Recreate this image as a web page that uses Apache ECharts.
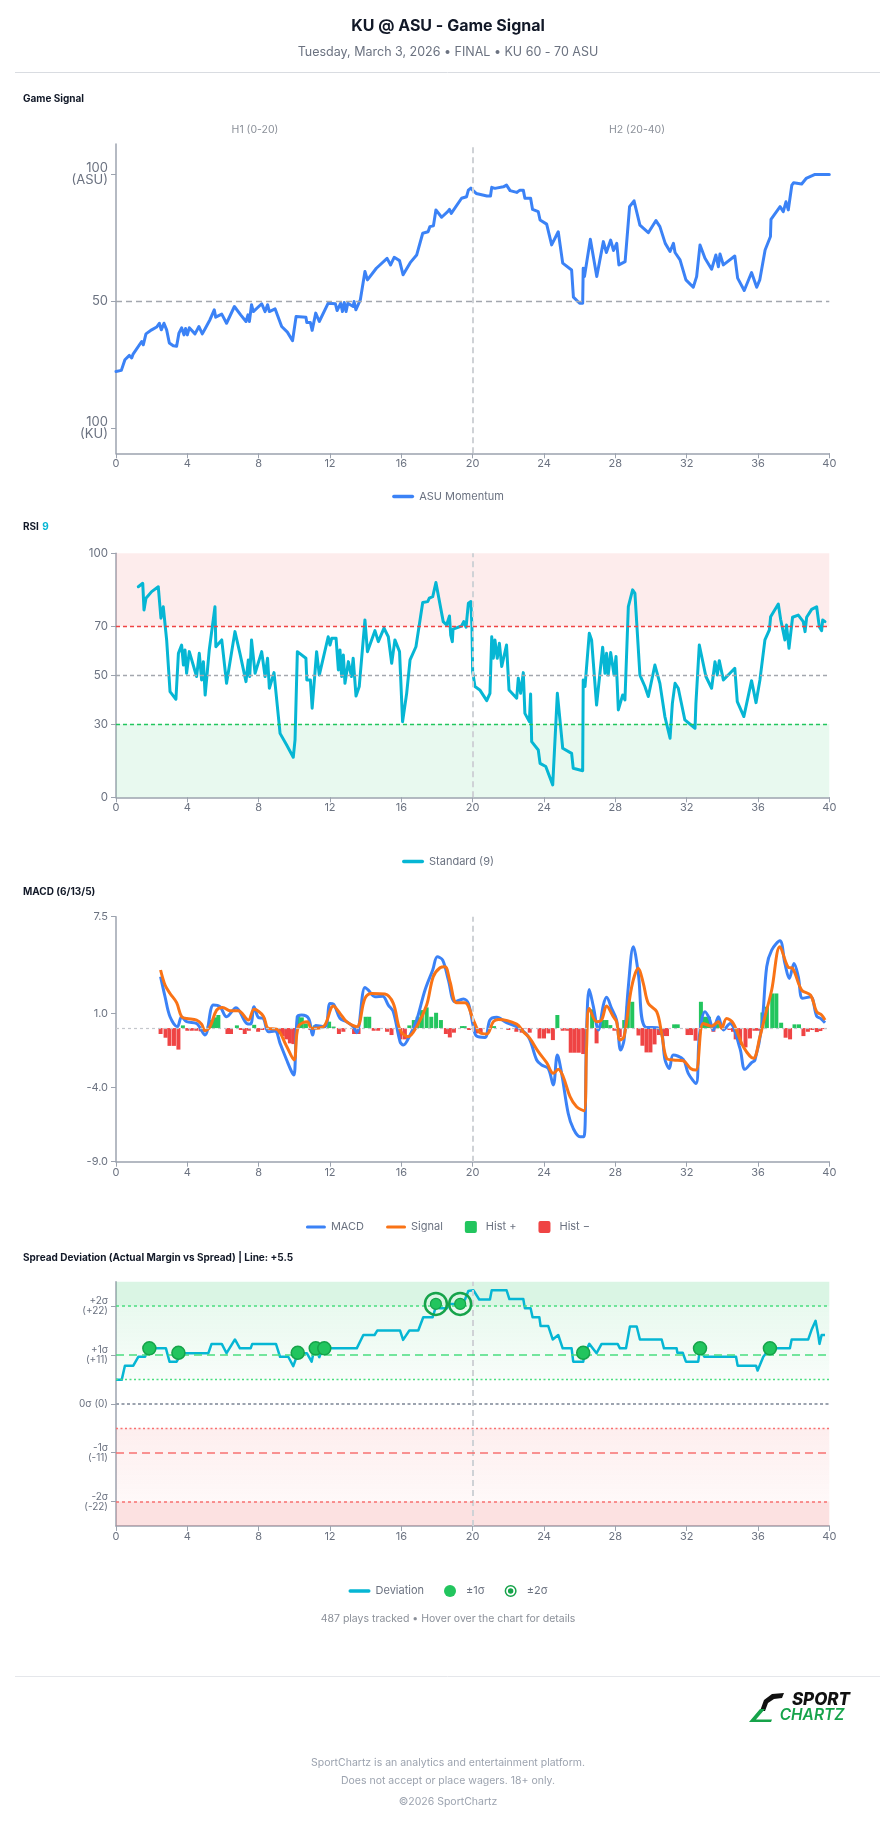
<!DOCTYPE html>
<html>
<head>
<meta charset="utf-8">
<script src="https://cdn.jsdelivr.net/npm/echarts@6.0.0/dist/echarts.min.js"></script>
<style>
  html, body { margin: 0; padding: 0; background: #fff; }
  #page { width: 896px; height: 1824px; }
</style>
</head>
<body>
<div id="page"></div>
<script>
// ---- game signal (ASU momentum, 0 = 100% KU, 100 = 100% ASU) ----
const signalT = [0,0.3,0.5,0.75,0.88,0.95,1.44,1.53,1.68,2.0,2.28,2.43,2.54,2.69,2.84,2.99,3.21,3.4,3.53,3.68,3.81,3.9,4.0,4.11,4.43,4.65,4.84,4.99,5.27,5.51,5.59,5.93,6.2,6.64,6.99,7.29,7.4,7.48,7.6,7.7,8.17,8.36,8.5,8.6,8.92,9.29,9.61,9.9,10.1,10.65,10.7,10.9,11.0,11.2,11.4,11.9,12.3,12.4,12.6,12.7,12.8,12.9,13.0,13.3,13.35,13.45,13.7,13.96,14.1,14.6,15.2,15.4,15.6,15.9,16.1,16.5,16.86,17.2,17.5,17.6,17.8,17.94,18.26,18.6,18.7,18.8,19.38,19.66,19.76,19.9,20.03,20.2,20.8,21.0,21.07,21.25,21.72,21.9,22.1,22.47,22.65,22.84,22.93,23.25,23.36,23.68,23.78,24.15,24.43,24.8,25.05,25.55,25.65,26.0,26.17,26.2,26.27,26.6,26.96,27.33,27.5,27.74,27.9,28.08,28.2,28.55,28.8,29.05,29.38,29.85,30.28,30.5,30.8,31.07,31.26,31.35,31.63,31.96,32.37,32.56,32.75,33.03,33.4,33.64,33.78,33.87,34.06,34.7,34.86,35.23,35.64,35.93,36.1,36.4,36.7,36.73,37.24,37.42,37.57,37.7,37.9,38.0,38.45,38.7,39.2,40.0];
const signalV = [22.3,22.7,26.9,28.6,27.6,29.0,34.1,32.8,37.1,38.7,39.8,41.3,38.7,41.3,38.7,33.5,32.4,32.2,37.4,39.5,36.7,39.2,36.7,39.5,37.1,40.0,37.1,39.0,42.7,46.6,43.7,44.9,41.3,47.9,44.6,42.0,44.6,42.0,48.6,45.9,49.0,45.9,48.6,45.9,47.0,40.0,37.8,34.4,44.0,43.7,41.6,41.6,38.5,45.3,42.0,49.2,49.0,46.3,49.2,45.9,49.5,45.9,49.2,47.9,49.9,46.6,50.5,61.7,58.4,63.0,66.9,64.3,67.3,66.0,60.4,65.2,68.2,76.8,77.4,79.4,79.7,86.0,83.1,85.3,86.2,84.6,90.6,91.2,93.8,94.6,93.6,92.5,91.5,91.5,94.9,94.5,95.1,95.8,93.6,92.9,93.8,93.8,90.6,90.6,86.2,85.3,82.0,80.4,72.2,77.4,65.0,62.3,51.6,49.2,49.2,63.0,59.7,74.4,59.7,73.5,69.2,74.1,70.0,72.8,64.3,65.6,87.3,89.6,80.0,77.0,81.8,79.4,72.8,69.6,72.8,69.2,66.3,58.4,55.5,59.7,72.2,66.9,62.6,68.2,63.6,68.6,64.3,67.8,59.1,54.2,61.3,55.5,58.4,70.2,75.5,82.3,87.3,85.3,89.2,86.0,95.8,96.7,96.2,98.4,100,100];

// ---- RSI 9 ----
const rsiT = [1.25,1.5,1.57,1.68,2.0,2.37,2.52,2.65,2.84,3.03,3.36,3.5,3.68,3.78,3.87,3.96,4.11,4.52,4.67,4.8,4.9,5.0,5.23,5.55,5.6,5.93,6.2,6.67,6.95,7.29,7.42,7.5,7.6,7.8,8.17,8.36,8.5,8.6,8.86,9.2,9.57,9.94,10.04,10.17,10.65,10.7,10.9,11.0,11.25,11.4,11.9,12.0,12.1,12.34,12.47,12.56,12.65,12.75,12.84,13.03,13.2,13.3,13.46,13.64,13.96,14.1,14.52,14.71,15.03,15.27,15.46,15.64,15.9,16.07,16.3,16.49,16.82,17.2,17.48,17.57,17.76,17.94,18.35,18.54,18.7,18.77,18.86,18.9,19.38,19.5,19.63,19.76,19.9,19.96,20.0,20.13,20.4,20.79,20.97,21.07,21.16,21.25,21.38,21.5,21.63,21.9,22.04,22.47,22.56,22.69,22.84,22.93,23.18,23.25,23.31,23.68,23.78,24.1,24.49,24.75,24.86,25.05,25.55,25.64,26.17,26.2,26.3,26.54,26.67,26.95,27.29,27.42,27.51,27.6,27.74,27.93,28.04,28.17,28.41,28.54,28.73,28.97,29.1,29.38,29.66,29.85,30.22,30.5,30.78,31.07,31.2,31.35,31.53,31.9,32.47,32.52,32.71,33.08,33.4,33.59,33.72,33.83,34.06,34.7,34.84,35.21,35.64,35.89,36.11,36.39,36.64,36.71,37.14,37.27,37.51,37.6,37.74,37.94,38.26,38.54,38.64,38.73,39.01,39.29,39.44,39.57,39.63,39.76];
const rsiV = [86.3,87.7,76.8,81.6,84.3,86.3,73.4,78.1,64.5,43.3,40.2,59.0,62.4,54.2,60.4,50.8,59.7,49.5,59.0,48.1,55.6,41.9,60.4,78.1,61.7,64.5,46.7,67.9,59.0,47.4,56.3,49.5,64.5,50.8,59.7,49.5,57.0,44.7,51.1,26.2,21.4,16.4,23.5,59.7,57.0,48.1,48.1,36.5,59.7,50.1,65.8,62.4,65.2,65.2,52.2,60.4,49.5,58.3,46.7,55.6,49.5,57.0,41.5,45.4,72.7,59.7,68.3,63.8,69.3,65.8,54.9,64.5,59.7,31.0,42.6,56.3,61.7,79.8,80.2,81.6,82.2,88.0,72.0,70.6,74.3,66.5,63.8,68.9,70.2,72.0,69.7,79.5,80.2,69.9,51.5,45.4,44.0,39.6,42.6,65.8,57.0,64.5,57.0,63.1,53.6,62.4,44.0,40.6,48.8,42.6,51.1,34.4,31.0,42.3,22.8,19.4,13.9,12.6,5.1,42.6,34.4,20.1,18.0,11.9,10.9,48.1,45.4,67.2,64.5,37.8,61.5,50.8,59.0,50.1,59.3,50.1,57.7,35.8,41.9,39.9,78.1,85.0,83.6,50.1,45.4,41.3,54.2,46.7,33.1,24.2,38.5,46.7,44.7,31.7,28.3,38.5,62.4,49.5,44.7,55.6,50.1,56.0,48.1,52.9,39.2,33.1,47.8,38.8,48.1,64.5,68.6,74.0,79.2,73.0,64.5,70.6,61.1,73.8,74.7,72.0,67.9,73.8,77.0,78.1,69.9,68.3,72.7,72.0];

// ---- MACD (6/13/5) ----
const macdT = [2.5,2.75,3.03,3.44,3.68,3.96,4.52,4.99,5.46,5.83,6.2,6.73,7.33,7.55,7.74,7.98,8.26,8.54,8.92,9.2,9.57,9.85,9.98,10.17,10.41,10.8,11.03,11.2,11.72,12.0,12.19,12.56,12.93,13.3,13.5,13.96,14.15,14.52,14.95,15.27,15.55,15.93,16.11,16.49,16.86,17.33,17.76,18.02,18.32,18.64,19.01,19.48,19.76,20.04,20.22,20.69,20.97,21.35,21.9,22.47,23.12,23.59,23.87,24.24,24.52,24.75,24.99,25.36,25.64,26.02,26.24,26.39,26.54,26.77,27.05,27.33,27.51,27.79,28.07,28.3,28.49,28.73,29.01,29.29,29.66,30.47,30.79,31.03,31.25,31.81,32.09,32.52,32.71,33.03,33.27,33.5,33.78,34.06,34.43,34.99,35.27,35.64,35.83,36.21,36.49,36.77,37.23,37.51,37.76,38.02,38.26,38.5,38.95,39.29,39.51,39.76];
const macdV = [3.46,2.11,0.76,0.09,0.76,0.43,0.31,-0.47,1.55,1.44,0.76,1.37,0.31,0.27,1.44,0.72,0.65,-0.25,-0.2,-1.03,-2.15,-2.94,-3.16,0.76,0.88,0.65,-0.47,0.18,0.09,1.66,1.62,0.65,0.43,0.09,-0.31,2.74,2.56,2.11,2.15,1.55,1.1,-0.92,-1.14,-0.47,0.54,2.56,3.91,4.8,4.58,3.23,1.77,1.95,1.66,0.09,-0.54,-0.63,0.54,0.72,0.36,0.09,-0.58,-2.15,-2.49,-2.72,-3.84,-1.82,-3.05,-5.75,-6.76,-7.32,-7.32,-0.13,2.6,1.44,-0.13,1.55,2.07,1.32,0.54,-1.48,-0.81,2.78,5.48,3.68,0.09,-0.02,-2.15,-2.72,-1.82,-2.11,-3.05,-3.73,-0.58,1.1,0.65,-0.13,0.76,-0.13,0.31,-1.37,-2.78,-2.33,-2.15,0.09,4.13,5.25,5.88,4.35,3.34,4.35,3.46,2.0,2.11,0.81,0.65,0.36];
const signalLineT = [2.5,2.75,3.03,3.4,3.68,3.96,4.52,4.8,4.99,5.27,5.64,5.98,6.39,6.86,7.42,7.74,8.26,8.54,9.01,9.53,9.98,10.22,10.73,10.97,11.63,12.19,12.56,12.93,13.5,13.96,14.34,15.08,15.55,15.93,16.39,16.86,17.42,17.79,18.17,18.45,18.73,19.1,19.57,20.04,20.41,20.79,21.16,21.44,22.47,22.84,23.21,23.68,24.15,24.52,24.8,25.08,25.46,25.83,26.24,26.39,26.54,26.95,27.23,27.51,27.89,28.07,28.26,28.49,28.92,29.29,29.57,29.85,30.32,30.6,30.88,31.25,31.81,32.22,32.52,32.93,33.4,33.78,33.96,34.24,34.62,35.18,35.74,36.11,36.39,36.77,37.23,37.7,37.94,38.45,38.95,39.29,39.57,39.76];
const signalLineV = [3.91,2.9,2.33,1.71,0.76,0.65,0.54,0.27,-0.18,0.09,1.21,1.39,1.17,1.17,0.54,1.26,0.81,-0.02,-0.07,-1.14,-2.15,0.09,0.43,-0.02,0.09,1.48,0.99,0.43,0.09,2.0,2.33,2.29,1.66,-0.13,-0.58,0.09,1.55,3.46,4.06,4.13,3.12,1.71,1.71,0.54,-0.31,-0.4,0.43,0.58,0.27,-0.25,-0.7,-1.59,-2.33,-3.05,-2.78,-3.28,-4.62,-5.3,-5.57,-1.26,1.32,0.43,0.54,1.48,0.76,0.43,-0.81,-0.58,2.78,4.02,3.01,1.66,1.1,-0.36,-2.04,-2.15,-2.2,-2.72,-2.83,0.31,0.13,0.43,-0.02,0.65,0.31,-1.26,-2.04,-0.58,0.76,2.56,5.48,4.09,4.02,2.56,2.22,1.1,0.88,0.54];
const histT = [2.5,2.78,3.0,3.25,3.5,3.75,4.0,4.25,4.5,4.75,5.2,5.38,5.56,5.74,6.25,6.45,6.78,7.0,7.22,7.45,7.75,7.97,8.2,8.45,8.7,9.15,9.35,9.55,9.75,9.95,10.2,10.42,10.65,10.9,11.15,11.4,11.95,12.2,12.5,12.75,13.35,13.6,14.0,14.2,14.45,14.7,15.2,15.45,15.95,16.2,16.45,16.7,16.92,17.15,17.42,17.68,17.95,18.22,18.5,18.72,18.95,19.4,19.55,19.8,20.2,20.45,21.2,22.0,22.45,22.75,23.2,23.75,24.0,24.25,24.5,24.75,25.05,25.3,25.5,25.72,25.95,26.2,26.7,26.95,27.3,27.5,27.72,27.95,28.25,28.5,28.7,28.95,29.3,29.52,29.75,29.97,30.2,30.45,30.68,30.9,31.3,31.5,32.05,32.25,32.5,32.8,33.03,33.25,33.5,33.75,34.4,34.6,34.75,35.0,35.3,35.55,35.8,36.0,36.25,36.5,36.8,37.03,37.3,37.55,37.8,38.05,38.3,38.55,38.8,39.05,39.3,39.5,39.72];
const histV = [-0.4,-0.65,-1.2,-1.2,-1.45,0.18,-0.18,-0.18,-0.18,-0.22,0.15,0.54,0.72,0.88,-0.4,-0.4,0.18,-0.13,-0.4,-0.18,0.22,-0.25,-0.13,-0.1,-0.08,-0.4,-0.54,-0.76,-1.03,-1.08,0.81,0.72,0.31,-0.13,0.18,0.18,0.43,0.1,-0.4,-0.25,-0.4,-0.4,0.76,0.76,-0.18,-0.18,-0.25,-0.47,-0.76,-0.76,0.18,0.54,0.76,1.21,1.39,0.76,1.03,0.54,-0.4,-0.63,-0.31,0.13,0.13,-0.13,-0.36,-0.36,0.13,-0.13,-0.25,-0.31,-0.31,-0.7,-0.7,-0.36,-0.81,0.88,-0.18,-0.18,-1.66,-1.66,-1.66,-1.75,1.26,-1.03,0.54,0.54,0.2,-0.18,-0.6,0.54,1.48,1.77,-0.5,-1.19,-1.64,-1.64,-1.1,-0.47,-0.54,-0.54,0.25,0.25,-0.47,-0.47,-0.85,1.77,0.76,0.76,-0.25,0.27,-0.13,-0.25,-0.76,-1.14,-1.3,-0.7,-0.18,-0.18,1.05,1.44,2.33,2.33,0.36,-0.65,-0.76,0.25,0.25,-0.54,-0.25,-0.13,-0.27,-0.2,-0.07];

// ---- spread deviation (actual margin minus spread, sigma = 11) ----
const devT = [0,0.32,0.5,0.97,1.25,1.63,1.8,2.8,3.0,3.4,3.68,5.18,5.36,5.93,6.2,6.67,6.95,7.55,7.64,8.97,9.2,9.66,9.94,10.13,10.25,10.7,10.97,11.07,11.2,11.4,11.6,13.5,13.87,14.5,14.65,15.93,16.1,16.45,16.95,17.23,17.76,17.94,18.17,18.55,18.7,19.3,19.57,19.76,20.04,20.37,20.97,21.07,21.9,22.06,22.84,22.93,23.25,23.36,23.74,23.81,24.24,24.49,24.8,25.05,25.55,25.64,26.2,26.3,26.54,26.95,27.23,28.13,28.26,28.6,28.82,29.2,29.38,30.6,30.73,31.44,31.48,31.78,31.96,32.65,32.75,32.99,34.77,34.86,35.89,35.98,36.3,36.67,37.79,37.89,38.82,39.0,39.1,39.23,39.38,39.45,39.57,39.76];
const devV = [5.4,5.4,8.6,8.6,10.6,10.6,12.5,12.5,9.5,9.5,11.4,11.4,13.5,13.5,11.4,14.5,12.5,12.5,13.5,13.5,10.6,10.6,8.5,10.6,11.4,11.4,9.5,11.4,12.5,10.5,12.5,12.5,15.5,15.5,16.5,16.5,14.4,16.5,16.5,19.5,19.5,21.9,21.5,21.5,22.5,22.5,23.5,25.4,25.6,23.5,23.5,25.6,25.6,23.6,23.6,21.5,21.5,19.5,19.5,17.5,17.5,14.5,15.5,12.5,12.5,9.5,9.5,11.5,13.5,11.4,13.5,13.5,12.5,12.5,17.4,17.4,14.5,14.5,12.5,12.5,11.5,11.5,9.5,9.5,12.5,10.6,10.6,8.6,8.6,7.5,10.6,12.5,12.5,14.5,14.5,16.6,16.6,18.7,15.5,13.5,15.5,15.5];
const sigma1T = [1.87,3.5,10.19,11.2,11.68,26.2,32.75,36.67];
const sigma1V = [12.5,11.5,11.5,12.5,12.5,11.5,12.5,12.5];
const sigma2T = [17.94,19.3];
const sigma2V = [22.5,22.5];
const sigmaTicks = [-22, -11, 0, 11, 22];
const sigmaLabels = ['-2σ\n(-22)', '-1σ\n(-11)', '0σ (0)', '+1σ\n(+11)', '+2σ\n(+22)'];
const spreadLine = 5.5;

const FONT = 'Inter, "Noto Sans", sans-serif';
const GREY = '#6b7280';
const AXIS = '#9ca3af';
const zip = (t, v) => t.map((x, i) => [x, v[i]]);

const chart = echarts.init(document.getElementById('page'), null, { renderer: 'canvas' });

// four stacked panels share the same horizontal extent
const panels = [
  { top: 144, height: 309.3, min: -10, max: 112 },
  { top: 553.3, height: 244, min: 0, max: 100 },
  { top: 916.7, height: 245, min: -9, max: 7.5 },
  { top: 1281.7, height: 244.3, min: -27.5, max: 27.5 }
];

const grids = panels.map(p => ({ left: 116, width: 713.3, top: p.top, height: p.height }));

const xAxes = panels.map((p, i) => ({
  gridIndex: i, type: 'value', min: 0, max: 40, interval: 4,
  axisLine: { show: true, onZero: false, lineStyle: { color: AXIS, width: 1.5 } },
  axisTick: { show: true, length: 5, lineStyle: { color: AXIS, width: 1 } },
  axisLabel: { color: GREY, fontSize: 11, margin: 5, fontFamily: FONT },
  splitLine: { show: false }
}));

function yAxis(i, ticks, formatter, fontSize, lineHeight) {
  return {
    gridIndex: i, type: 'value', min: panels[i].min, max: panels[i].max,
    axisLine: { show: true, lineStyle: { color: AXIS, width: 1.5 } },
    axisTick: { show: true, length: 5, customValues: ticks, lineStyle: { color: AXIS } },
    axisLabel: { customValues: ticks, formatter: formatter, color: GREY, fontSize: fontSize,
                 lineHeight: lineHeight, margin: 8, fontFamily: FONT },
    splitLine: { show: false }
  };
}

const yAxes = [
  yAxis(0, [0, 50, 100], v => v === 100 ? '100\n(ASU)' : (v === 0 ? '100\n(KU)' : '50'), 13, 12),
  yAxis(1, [0, 30, 50, 70, 100], v => String(v), 11.5, 12),
  yAxis(2, [-9, -4, 1, 7.5], v => v.toFixed(1), 11, 12),
  yAxis(3, sigmaTicks, v => sigmaLabels[sigmaTicks.indexOf(v)], 10, 10)
];

const halfLine = { xAxis: 20, lineStyle: { color: '#cfd2d6', type: [6, 4], width: 2 } };
function hLine(y, color, type, width) {
  return { yAxis: y, lineStyle: { color: color, type: type, width: width } };
}
function markLines(data) {
  return { silent: true, symbol: 'none', label: { show: false }, animation: false, data: data };
}
function band(y1, y2, color) {
  return [{ yAxis: y1, itemStyle: { color: color } }, { yAxis: y2 }];
}
function fade(topColor, bottomColor) {
  return new echarts.graphic.LinearGradient(0, 0, 0, 1, [
    { offset: 0, color: topColor }, { offset: 1, color: bottomColor }
  ]);
}

const histPos = zip(histT, histV).filter(d => d[1] >= 0);
const histNeg = zip(histT, histV).filter(d => d[1] < 0);

const series = [
  {
    name: 'ASU Momentum', type: 'line', xAxisIndex: 0, yAxisIndex: 0,
    data: zip(signalT, signalV), showSymbol: false, symbol: 'none',
    lineStyle: { color: '#3b82f6', width: 3, join: 'round', cap: 'round' }, itemStyle: { color: '#3b82f6' },
    markLine: markLines([halfLine, hLine(50, '#a3a7ae', [6, 4], 1.3)])
  },
  {
    name: 'Standard (9)', type: 'line', xAxisIndex: 1, yAxisIndex: 1,
    data: zip(rsiT, rsiV), showSymbol: false, symbol: 'none',
    lineStyle: { color: '#06b6d4', width: 3, join: 'round', cap: 'round' }, itemStyle: { color: '#06b6d4' },
    markArea: { silent: true, data: [band(70, 100, 'rgba(239,68,68,0.10)'), band(0, 30, 'rgba(34,197,94,0.10)')] },
    markLine: markLines([
      halfLine,
      hLine(70, '#ef4444', [4, 3], 1.3),
      hLine(50, '#a3a7ae', [4, 3], 1.3),
      hLine(30, '#22c55e', [4, 3], 1.3)
    ])
  },
  {
    name: 'Hist +', type: 'bar', xAxisIndex: 2, yAxisIndex: 2, data: histPos,
    barWidth: 4, barGap: '-100%', itemStyle: { color: '#22c55e' }, z: 1
  },
  {
    name: 'Hist −', type: 'bar', xAxisIndex: 2, yAxisIndex: 2, data: histNeg,
    barWidth: 4, barGap: '-100%', itemStyle: { color: '#ef4444' }, z: 1
  },
  {
    name: 'MACD', type: 'line', xAxisIndex: 2, yAxisIndex: 2,
    data: zip(macdT, macdV), showSymbol: false, symbol: 'none', smooth: 0.35, z: 3,
    lineStyle: { color: '#3b82f6', width: 3 }, itemStyle: { color: '#3b82f6' },
    markLine: markLines([halfLine, hLine(0, '#c4c7cc', [3, 3], 1.2)])
  },
  {
    name: 'Signal', type: 'line', xAxisIndex: 2, yAxisIndex: 2,
    data: zip(signalLineT, signalLineV), showSymbol: false, symbol: 'none', smooth: 0.35, z: 4,
    lineStyle: { color: '#f97316', width: 3 }, itemStyle: { color: '#f97316' }
  },
  {
    name: 'Deviation', type: 'line', xAxisIndex: 3, yAxisIndex: 3,
    data: zip(devT, devV), showSymbol: false, symbol: 'none', z: 3,
    lineStyle: { color: '#06b6d4', width: 2.5, join: 'round' }, itemStyle: { color: '#06b6d4' },
    markArea: {
      silent: true,
      data: [
        band(22, 27.5, 'rgba(34,197,94,0.17)'),
        band(spreadLine, 22, fade('rgba(34,197,94,0.10)', 'rgba(34,197,94,0.03)')),
        band(-22, -spreadLine, fade('rgba(239,68,68,0.09)', 'rgba(239,68,68,0.03)')),
        band(-27.5, -22, 'rgba(239,68,68,0.16)')
      ]
    },
    markLine: markLines([
      halfLine,
      hLine(22, '#4ade80', [3, 3], 1.5),
      hLine(11, '#4ade80', [8, 5], 1.5),
      hLine(spreadLine, '#4ade80', [2, 2.5], 1.3),
      hLine(0, '#9ca3af', [3, 2.5], 2),
      hLine(-spreadLine, '#f87171', [2, 2.5], 1.3),
      hLine(-11, '#f87171', [8, 5], 1.5),
      hLine(-22, '#f87171', [3, 3], 1.5)
    ])
  },
  {
    name: '±1σ', type: 'scatter', xAxisIndex: 3, yAxisIndex: 3, data: zip(sigma1T, sigma1V),
    symbolSize: 13, z: 5, itemStyle: { color: '#22c55e', borderColor: '#16a34a', borderWidth: 1.5, opacity: 1 }
  },
  {
    name: '±2σ', type: 'scatter', xAxisIndex: 3, yAxisIndex: 3, data: zip(sigma2T, sigma2V),
    symbolSize: 22, z: 5, itemStyle: { color: 'rgba(255,255,255,0)', borderColor: '#16a34a', borderWidth: 2.5, opacity: 1 }
  },
  {
    name: '±2σ', type: 'scatter', xAxisIndex: 3, yAxisIndex: 3, data: zip(sigma2T, sigma2V),
    symbolSize: 11, z: 6, itemStyle: { color: '#22c55e', borderColor: '#16a34a', borderWidth: 1.2, opacity: 1 }
  }
];

const ringIcon = 'path://M0,-10A10,10 0 1,1 0,10A10,10 0 1,1 0,-10ZM0,-7.5A7.5,7.5 0 1,0 0,7.5A7.5,7.5 0 1,0 0,-7.5ZM0,-4.5A4.5,4.5 0 1,1 0,4.5A4.5,4.5 0 1,1 0,-4.5Z';
const squareIcon = 'path://M2,0H10Q12,0 12,2V10Q12,12 10,12H2Q0,12 0,10V2Q0,0 2,0Z';
const lineIcon = 'path://M1.5,0H18.5A1.5,1.5 0 0,1 18.5,3H1.5A1.5,1.5 0 0,1 1.5,0Z';
const legendText = { color: GREY, fontSize: 11, fontFamily: FONT };
const lineItem = name => ({ name: name, icon: lineIcon });
const legends = [
  { top: 486, left: 'center', itemWidth: 22, itemHeight: 12, textStyle: legendText, data: [lineItem('ASU Momentum')] },
  { top: 851, left: 'center', itemWidth: 22, itemHeight: 12, textStyle: legendText, data: [lineItem('Standard (9)')] },
  { top: 1216, left: 'center', itemWidth: 20, itemHeight: 12, itemGap: 22, textStyle: legendText,
    data: [lineItem('MACD'), lineItem('Signal'), { name: 'Hist +', icon: squareIcon }, { name: 'Hist −', icon: squareIcon }] },
  { top: 1580, left: 'center', itemWidth: 22, itemHeight: 12, itemGap: 20, textStyle: legendText,
    data: [lineItem('Deviation'), { name: '±1σ', icon: 'circle', itemStyle: { borderWidth: 0 } },
           { name: '±2σ', icon: ringIcon, itemStyle: { color: '#16a34a', borderWidth: 0 } }] }
];

function txt(x, y, text, font, fill, align) {
  return { type: 'text', x: x, y: y, silent: true,
           style: { text: text, font: font, fill: fill, align: align || 'left', verticalAlign: 'middle' } };
}
const bold = s => 'bold ' + s + 'px ' + FONT;
const reg = s => s + 'px ' + FONT;

const graphics = [
  txt(448, 26, 'KU @ ASU - Game Signal', bold(16), '#111827', 'center'),
  txt(448, 52, 'Tuesday, March 3, 2026 • FINAL • KU 60 - 70 ASU', reg(12.5), GREY, 'center'),
  { type: 'line', silent: true, shape: { x1: 15, y1: 72.5, x2: 880, y2: 72.5 }, style: { stroke: '#d9dce1', lineWidth: 1 } },
  txt(23, 99, 'Game Signal', bold(10), '#111827'),
  txt(255, 130, 'H1 (0-20)', reg(10.5), '#8b9099', 'center'),
  txt(637, 130, 'H2 (20-40)', reg(10.5), '#8b9099', 'center'),
  { type: 'text', x: 23, y: 527, silent: true,
    style: { text: '{a|RSI} {b|9}', verticalAlign: 'middle',
             rich: { a: { fontFamily: FONT, fontWeight: 'bold', fontSize: 10, fill: '#111827' },
                     b: { fontFamily: FONT, fontWeight: 'bold', fontSize: 10, fill: '#06b6d4' } } } },
  txt(23, 892, 'MACD (6/13/5)', bold(10), '#111827'),
  txt(23, 1258, 'Spread Deviation (Actual Margin vs Spread) | Line: +5.5', bold(10), '#111827'),
  txt(448, 1619, '487 plays tracked • Hover over the chart for details', reg(10.5), '#8b9099', 'center'),
  { type: 'line', silent: true, shape: { x1: 15, y1: 1676.5, x2: 880, y2: 1676.5 }, style: { stroke: '#e5e7eb', lineWidth: 1 } },
  // SportChartz logo
  { type: 'polygon', silent: true, shape: { points: [[784, 1693], [772, 1694], [764, 1700], [760, 1711], [765, 1711], [768, 1703], [774, 1699], [782, 1698]] },
    style: { fill: '#111111' } },
  { type: 'polygon', silent: true, shape: { points: [[760, 1709], [765, 1709], [756, 1719.5], [772, 1719.5], [771, 1722], [749, 1722]] },
    style: { fill: '#16a34a' } },
  txt(821, 1700, 'SPORT', 'italic 800 17px ' + FONT, '#111111', 'center'),
  txt(812, 1715, 'CHARTZ', 'italic 600 15.5px ' + FONT, '#16a34a', 'center'),
  txt(448, 1763, 'SportChartz is an analytics and entertainment platform.', reg(10.5), '#9ca3af', 'center'),
  txt(448, 1781, 'Does not accept or place wagers. 18+ only.', reg(10.5), '#9ca3af', 'center'),
  txt(448, 1802, '©2026 SportChartz', reg(10.5), '#9ca3af', 'center')
];

chart.setOption({
  animation: false,
  textStyle: { fontFamily: FONT },
  grid: grids,
  xAxis: xAxes,
  yAxis: yAxes,
  legend: legends,
  series: series,
  graphic: graphics
});
</script>
</body>
</html>
